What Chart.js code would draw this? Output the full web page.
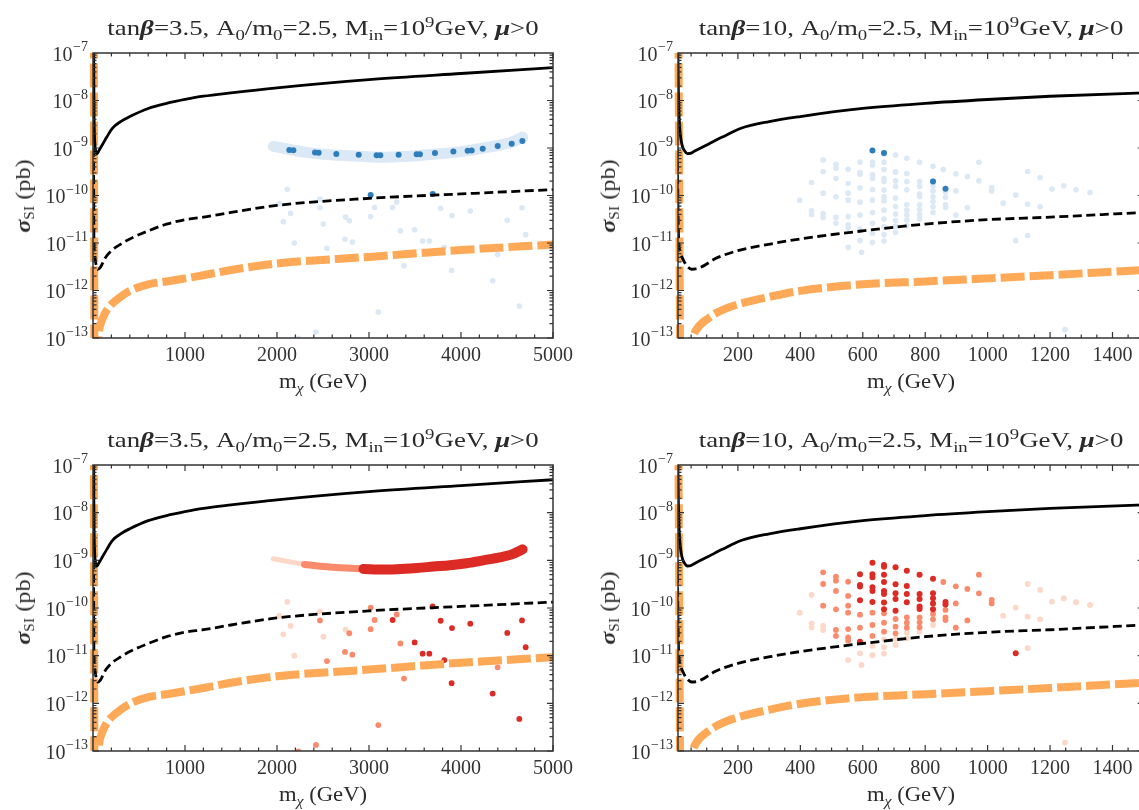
<!DOCTYPE html>
<html>
<head>
<meta charset="utf-8">
<script src="https://cdn.jsdelivr.net/npm/chart.js@4.4.1/dist/chart.umd.min.js"></script>
<style>
  html, body { margin: 0; padding: 0; background: #fff; width: 1139px; height: 810px; overflow: hidden; }
  canvas { position: absolute; }
  .txt { position: absolute; font-family: "Liberation Serif", serif; font-size: 22px; line-height: 22px; color: #2a2a2a; white-space: nowrap; }
  .txt sub { font-size: 0.7em; vertical-align: -0.3em; line-height: 0; }
  .txt sup { font-size: 0.7em; vertical-align: 0.55em; line-height: 0; }
  .sc { font-size: 0.62em !important; letter-spacing: 0.02em; }
</style>
</head>
<body>
<script>
// --- reference curves (m_chi in GeV, sigma_SI in pb), same in all four panels ---
const solidMass  = [7, 9, 12, 16, 22, 30, 38, 50, 60, 105, 150, 210, 300, 400, 600, 800, 1000, 1200, 1500, 2000, 3000, 4000, 5000];
const solidSigma = [2e-7, 2e-8, 4e-9, 1.8e-9, 1.1e-9, 8.5e-10, 7.6e-10, 7.8e-10, 8.5e-10, 1.2e-9, 1.7e-9, 2.6e-9, 3.6e-9, 4.6e-9, 6.8e-9, 8.7e-9, 1.05e-8, 1.23e-8, 1.45e-8, 1.85e-8, 2.75e-8, 3.7e-8, 4.9e-8];

const dashedMass  = [6, 8, 10, 15, 23, 35, 52, 82, 128, 200, 303, 400, 600, 800, 1000, 1200, 1500, 2000, 3000, 4000, 5000];
const dashedSigma = [1e-9, 5e-11, 1.2e-11, 6.5e-12, 4.7e-12, 3.4e-12, 2.8e-12, 3.1e-12, 4.7e-12, 6.9e-12, 9.5e-12, 1.22e-11, 1.8e-11, 2.5e-11, 3.1e-11, 3.5e-11, 4.4e-11, 6.2e-11, 8.7e-11, 1.08e-10, 1.33e-10];

const orangeMass  = [9, 10.5, 12, 13.5, 15, 20, 35, 50, 64, 105, 151, 200, 303, 400, 600, 800, 1000, 1200, 1500, 2000, 3000, 4000, 5000];
const orangeSigma = [1e-6, 1e-8, 1e-10, 1e-12, 3e-14, 2e-14, 3e-14, 8e-14, 1.4e-13, 2.6e-13, 3.9e-13, 5.1e-13, 7.4e-13, 9.8e-13, 1.35e-12, 1.55e-12, 1.8e-12, 2.1e-12, 2.7e-12, 3.7e-12, 5.1e-12, 7.1e-12, 9.3e-12];

// --- tan(beta)=3.5 panels: dense band + stray points ---
const bandMass  = [1960, 2140, 2300, 2470, 2690, 2940, 3160, 3340, 3520, 3700, 3880, 4060, 4240, 4420, 4560, 4670];
const bandSigma = [1.08e-9, 9.3e-10, 8.2e-10, 7.5e-10, 7.0e-10, 6.6e-10, 6.4e-10, 6.6e-10, 6.9e-10, 7.4e-10, 7.9e-10, 8.7e-10, 1.0e-9, 1.15e-9, 1.35e-9, 1.7e-9];
// band pieces by shade in the lower panel (index ranges into band arrays)
const bandPale = [0, 2], bandSalmon = [2, 5], bandRed = [5, 15];

const tlDarkMass  = [2134, 2178, 2413, 2453, 2645, 2888, 3083, 3123, 3322, 3518, 3554, 3717, 3917, 4072, 4116, 4236, 4399, 4551, 4667, 3018, 3692];
const tlDarkSigma = [9.1e-10, 9.0e-10, 8.0e-10, 7.9e-10, 7.5e-10, 7.2e-10, 7.0e-10, 7.0e-10, 7.2e-10, 7.4e-10, 7.4e-10, 7.85e-10, 8.4e-10, 8.8e-10, 8.9e-10, 9.7e-10, 1.1e-9, 1.23e-9, 1.4e-9, 1.02e-10, 1.08e-10];

const strayMass  = [2112, 2025, 2069, 2148, 2188, 2467, 2467, 2504, 2543, 2746, 2786, 2739, 2819, 3018, 3061, 3257, 3301, 3341, 3380, 3101,
                    3496, 3583, 3656, 3779, 3819, 3902, 3898, 4101, 4344, 4398, 4503, 4663, 4703, 4634, 2424, 2232, 3018, 3692];
const straySigma = [1.35e-10, 6.8e-11, 2.8e-11, 4.2e-11, 1.0e-11, 8.4e-11, 5.5e-11, 2.5e-11, 7.7e-12, 3.5e-11, 2.95e-11, 1.2e-11, 1.05e-11, 3.6e-11, 5.6e-11, 5.6e-11, 7.3e-11, 1.8e-11, 3.3e-12, 3.5e-13,
                    1.9e-11, 1.1e-11, 1.1e-11, 5.4e-11, 8.1e-12, 3.8e-11, 2.65e-12, 4.7e-11, 1.6e-12, 5.7e-12, 3.0e-11, 5.5e-11, 1.5e-11, 4.7e-13, 1.34e-13, 9.8e-14, 1.02e-10, 1.08e-10];
// 0 = pale, 1 = salmon, 2 = red (lower panel)
const strayShade = [0, 0, 0, 0, 0, 0, 1, 0, 1, 0, 1, 1, 1, 1, 1, 2, 1, 1, 1, 1,
                    2, 2, 2, 2, 2, 2, 2, 2, 2, 1, 2, 2, 2, 2, 1, 1, 1, 2];

// --- tan(beta)=10 panels: scan grid ---
const gridMass = [398, 436, 436, 436, 473, 473, 473, 473, 473, 514, 514, 514, 514, 514, 514,
  553, 553, 553, 553, 553, 553, 553, 553, 591, 591, 591, 591, 591, 591, 591, 591, 596,
  631, 631, 631, 631, 631, 631, 631, 631, 631, 631, 631,
  668, 668, 668, 668, 668, 668, 668, 668, 668, 668, 668, 668, 668, 668,
  705, 705, 705, 705, 705, 705, 705, 705, 705, 705,
  741, 741, 741, 741, 741, 741, 741, 741, 741,
  782, 782, 782, 782, 782, 782, 782, 782, 782,
  825, 825, 825, 825, 825, 825, 825, 825,
  865, 865, 865, 865, 865, 858, 898, 898, 898, 935, 935, 972, 972, 1013, 1013,
  1050, 1090, 1090, 1128, 1128, 1128, 1168, 1168, 1206, 1244, 1283, 1328, 1248];
const gridSigma = [7.98e-11, 1.88e-10, 4.77e-11, 3.93e-11, 5.6e-10, 3.19e-10, 1.12e-10, 4.19e-11, 3.46e-11, 4.54e-10, 3.74e-10, 2.28e-10, 9.4e-11, 3.46e-11, 2.59e-11,
  3.56e-10, 1.79e-10, 1.12e-10, 7.98e-11, 3.62e-11, 2.43e-11, 2.06e-11, 8.1e-12, 5.08e-10, 3.04e-10, 2.81e-10, 1.45e-10, 7.24e-11, 3.87e-11, 1.97e-11, 1.12e-11, 6.4e-12,
  8.93e-10, 5.08e-10, 4.4e-10, 2.72e-10, 2.28e-10, 1.34e-10, 7.98e-11, 4.4e-11, 2.59e-11, 1.6e-11, 1.02e-11,
  7.98e-10, 7.36e-10, 5.0e-10, 3.51e-10, 2.28e-10, 1.97e-10, 1.3e-10, 9.4e-11, 7.73e-11, 4.92e-11, 3.19e-11, 2.2e-11, 1.5e-11, 1.1e-11,
  7.13e-10, 3.14e-10, 2.03e-10, 1.55e-10, 8.8e-11, 5.88e-11, 4.06e-11, 2.94e-11, 2.24e-11, 1.68e-11,
  6.07e-10, 2.9e-10, 1.97e-10, 1.32e-10, 6.37e-11, 4.92e-11, 3.87e-11, 3.04e-11, 2.31e-11,
  5.0e-10, 1.97e-10, 1.55e-10, 1.07e-10, 9.5e-11, 6.37e-11, 5.0e-11, 3.93e-11, 3.19e-11,
  4.12e-10, 2.03e-10, 1.6e-10, 1.25e-10, 9.4e-11, 7.48e-11, 5.78e-11, 4.4e-11,
  1.34e-10, 1.19e-10, 9.1e-11, 6.37e-11, 5.6e-11, 3.51e-10, 2.85e-10, 1.25e-10, 3.87e-11, 2.51e-10, 5.5e-11, 5.0e-10, 2.03e-10, 1.47e-10, 1.25e-10,
  6.9e-11, 1.02e-10, 1.12e-11, 3.19e-10, 6.58e-11, 1.43e-11, 2.39e-10, 5.78e-11, 1.36e-10, 1.6e-10, 1.32e-10, 1.16e-10, 1.5e-13];
const gridShade = [0, 0, 0, 0, 1, 1, 1, 0, 0, 1, 1, 1, 1, 1, 1,
  1, 1, 1, 1, 1, 1, 1, 0, 2, 2, 2, 2, 1, 1, 2, 0, 0,
  2, 2, 2, 2, 2, 2, 1, 1, 1, 0, 0,
  2, 2, 2, 2, 2, 2, 2, 2, 1, 1, 1, 0, 0, 0,
  2, 2, 2, 2, 2, 1, 1, 1, 0, 0,
  2, 2, 2, 2, 1, 1, 1, 0, 0,
  2, 2, 2, 2, 2, 1, 1, 1, 0,
  2, 2, 2, 2, 2, 1, 1, 0,
  2, 2, 1, 1, 1, 1, 1, 1, 1, 1, 1, 1, 1, 1, 1,
  0, 0, 2, 0, 0, 0, 0, 0, 0, 0, 0, 0, 0];

const trDarkMass  = [631, 668, 825, 865];
const trDarkSigma = [8.9e-10, 7.85e-10, 1.98e-10, 1.39e-10];

const xLabelsWide   = [1000, 2000, 3000, 4000, 5000];
const xLabelsNarrow = [200, 400, 600, 800, 1000, 1200, 1400];
const yExponents    = [-13, -12, -11, -10, -9, -8, -7];

const LIGHT_BLUE = '#dbe8f5', DARK_BLUE = '#2f7ebc';
const SHADES = ['#fdd7c7', '#f98a6c', '#dc2b25'];
const ORANGE = '#fea957';
const FONT = '"Liberation Serif", serif';

const pts = (ms, ss) => ms.map((m, i) => ({ x: m, y: ss[i] }));
const pick = (ms, ss, flags, k) => pts(ms, ss).filter((_, i) => flags[i] === k);
const slicePts = (r) => pts(bandMass.slice(r[0], r[1] + 1), bandSigma.slice(r[0], r[1] + 1));

function lineSets() {
  return [
    { data: pts(solidMass, solidSigma), showLine: true, pointRadius: 0, borderColor: '#000', borderWidth: 2.8, cubicInterpolationMode: 'monotone', order: 1 },
    { data: pts(dashedMass, dashedSigma), showLine: true, pointRadius: 0, borderColor: '#000', borderWidth: 2.8, borderDash: [9, 4.5], cubicInterpolationMode: 'monotone', order: 2 },
    { data: pts(orangeMass, orangeSigma), showLine: true, pointRadius: 0, borderColor: ORANGE, borderWidth: 8, borderDash: [24, 5], cubicInterpolationMode: 'monotone', order: 3,
      clip: { left: 5, top: 0, right: 0, bottom: 0 } }
  ];
}
const dots = (data, color, r, order) => ({ data, backgroundColor: color, pointRadius: r, pointBorderWidth: 0, order });
const band = (data, color, w, order) => ({ data, showLine: true, pointRadius: 0, borderColor: color, borderWidth: w,
  borderCapStyle: 'round', borderJoinStyle: 'round', cubicInterpolationMode: 'monotone', order });

// inward ticks on all four sides, the frame, and 10^n labels on the y axis
const frameTicks = {
  id: 'frameTicks',
  afterDatasetsDraw(chart, args, o) {
    const { ctx, chartArea: a, scales: { x, y } } = chart;
    ctx.save();
    ctx.strokeStyle = '#333';
    ctx.lineWidth = 1.2;
    ctx.beginPath();
    for (let i = 1; i * o.minor <= x.max; i++) {
      const v = i * o.minor;
      if (v < x.min) continue;
      const px = x.getPixelForValue(v);
      const len = (v % o.major === 0) ? 6 : 3.5;
      ctx.moveTo(px, a.bottom); ctx.lineTo(px, a.bottom - len);
      ctx.moveTo(px, a.top); ctx.lineTo(px, a.top + len);
    }
    for (let e = -13; e < -7; e++) {
      for (let k = 1; k < 10; k++) {
        const py = y.getPixelForValue(k * Math.pow(10, e));
        const len = k === 1 ? 6 : 3.5;
        ctx.moveTo(a.left, py); ctx.lineTo(a.left + len, py);
        ctx.moveTo(a.right, py); ctx.lineTo(a.right - len, py);
      }
    }
    ctx.stroke();
    ctx.lineWidth = 1.5;
    ctx.strokeRect(a.left, a.top, a.right - a.left, a.bottom - a.top);

    ctx.fillStyle = '#333';
    ctx.textAlign = 'right';
    ctx.textBaseline = 'alphabetic';
    yExponents.forEach(e => {
      const py = y.getPixelForValue(Math.pow(10, e));
      const exp = '\u2212' + String(-e);
      ctx.font = '14px ' + FONT;
      const ew = ctx.measureText(exp).width;
      ctx.fillText(exp, a.left - 5, py - 2);
      ctx.font = '20px ' + FONT;
      ctx.fillText('10', a.left - 5 - ew - 0.5, py + 7.5);
    });
    ctx.restore();
  }
};

const YW = 90, PT = 16, XH = 40;

function addText(html, left, top, transform) {
  const d = document.createElement('div');
  d.className = 'txt';
  d.style.left = left + 'px';
  d.style.top = top + 'px';
  d.style.transform = transform;
  d.innerHTML = html;
  document.body.appendChild(d);
}

function makePanel(p) {
  const cv = document.createElement('canvas');
  const width = Math.round(p.w + YW + 30);
  const height = Math.round(p.h + PT + XH);
  cv.width = width; cv.height = height;
  cv.style.left = (p.left - YW) + 'px';
  cv.style.top = (p.top - PT) + 'px';
  document.body.appendChild(cv);

  new Chart(cv, {
    type: 'scatter',
    data: { datasets: p.datasets },
    options: {
      responsive: false, animation: false, devicePixelRatio: 1, events: [],
      layout: { padding: { left: 0, top: PT, right: width - YW - p.w, bottom: 0 } },
      plugins: { legend: { display: false }, tooltip: { enabled: false }, frameTicks: { minor: p.minor, major: p.major } },
      scales: {
        x: {
          type: 'linear', min: p.xMin, max: p.xMax,
          grid: { display: false, drawTicks: false }, border: { display: false },
          afterBuildTicks: s => { s.ticks = p.labels.map(v => ({ value: v })); },
          afterFit: s => { s.height = XH; },
          ticks: { font: { family: FONT, size: 20 }, color: '#333', padding: 6, maxRotation: 0, autoSkip: false, callback: v => String(v) }
        },
        y: {
          type: 'logarithmic', min: 1e-13, max: 1e-7,
          grid: { display: false, drawTicks: false }, border: { display: false },
          afterBuildTicks: s => { s.ticks = yExponents.map(e => ({ value: Math.pow(10, e) })); },
          afterFit: s => { s.width = YW; },
          ticks: { display: false }
        }
      }
    },
    plugins: [frameTicks]
  });

  const cx = p.left + p.w / 2;
  addText('tan<b><i>β</i></b>=' + p.tanb + ', A<sub>0</sub>/m<sub>0</sub>=2.5, M<sub>in</sub>=10<sup>9</sup>GeV, <b><i>μ</i></b>&gt;0',
    cx, p.top - 36, 'translateX(-50%) scaleX(1.22)');
  addText('m<sub><i>χ</i></sub> (GeV)', cx, p.top + p.h + 32, 'translateX(-50%) scaleX(1.03)');
  addText('<b><i>σ</i></b><sub class="sc">SI</sub> (pb)', p.left - 70, p.top + p.h / 2, 'translate(-50%, -50%) rotate(-90deg) scaleX(1.1)');
}

const strayAll = pts(strayMass, straySigma);

makePanel({
  left: 93, top: 53, w: 460, h: 285, xMin: 0, xMax: 5000, minor: 200, major: 1000, labels: xLabelsWide, tanb: '3.5',
  datasets: [...lineSets(),
    dots(pts(tlDarkMass, tlDarkSigma), DARK_BLUE, 3, 4),
    dots(strayAll, LIGHT_BLUE, 2.8, 5),
    band(pts(bandMass, bandSigma), LIGHT_BLUE, 11, 6)]
});

makePanel({
  left: 678, top: 53, w: 465.7, h: 285, xMin: 8, xMax: 1500, minor: 50, major: 200, labels: xLabelsNarrow, tanb: '10',
  datasets: [...lineSets(),
    dots(pts(trDarkMass, trDarkSigma), DARK_BLUE, 3, 4),
    dots(pts(gridMass, gridSigma), LIGHT_BLUE, 2.8, 5)]
});

makePanel({
  left: 93, top: 465, w: 460, h: 286, xMin: 0, xMax: 5000, minor: 200, major: 1000, labels: xLabelsWide, tanb: '3.5',
  datasets: [...lineSets(),
    dots(pick(strayMass, straySigma, strayShade, 2), SHADES[2], 2.9, 4),
    dots(pick(strayMass, straySigma, strayShade, 1), SHADES[1], 2.9, 5),
    dots(pick(strayMass, straySigma, strayShade, 0), SHADES[0], 2.9, 6),
    band(slicePts(bandRed), SHADES[2], 10, 7),
    band(slicePts(bandSalmon), SHADES[1], 7, 8),
    band(slicePts(bandPale), SHADES[0], 5, 9)]
});

makePanel({
  left: 678, top: 465, w: 465.7, h: 286, xMin: 8, xMax: 1500, minor: 50, major: 200, labels: xLabelsNarrow, tanb: '10',
  datasets: [...lineSets(),
    dots(pick(gridMass, gridSigma, gridShade, 2), SHADES[2], 3, 4),
    dots(pick(gridMass, gridSigma, gridShade, 1), SHADES[1], 2.9, 5),
    dots(pick(gridMass, gridSigma, gridShade, 0), SHADES[0], 2.9, 6)]
});
</script>
</body>
</html>
